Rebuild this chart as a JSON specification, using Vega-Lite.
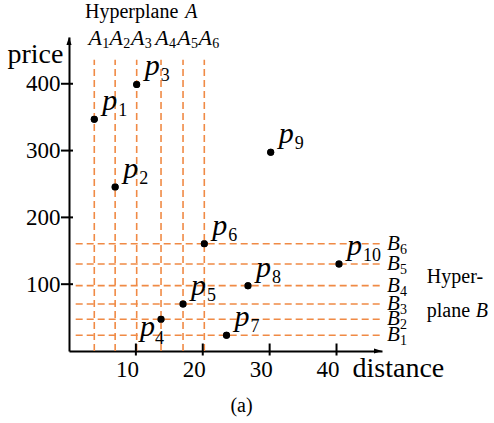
{
  "$schema": "https://vega.github.io/schema/vega-lite/v6.json",
  "width": 313,
  "height": 314,
  "autosize": {"type": "none"},
  "padding": {"left": 69, "top": 37, "right": 112, "bottom": 72},
  "background": "white",
  "config": {"view": {"stroke": null}, "font": "Liberation Serif"},
  "datasets": {
    "points": [
      {"name": "1", "distance": 3.78, "price": 347},
      {"name": "2", "distance": 6.9, "price": 245.5},
      {"name": "3", "distance": 10.12, "price": 399},
      {"name": "4", "distance": 13.76, "price": 47.5},
      {"name": "5", "distance": 17.05, "price": 70.4},
      {"name": "6", "distance": 20.23, "price": 160.6},
      {"name": "7", "distance": 23.55, "price": 23.5},
      {"name": "8", "distance": 26.76, "price": 97.8},
      {"name": "9", "distance": 30.16, "price": 297.5},
      {"name": "10", "distance": 40.37, "price": 130.2}
    ],
    "alines": [
      {"label": "1", "distance": 3.78},
      {"label": "2", "distance": 6.9},
      {"label": "3", "distance": 10.12},
      {"label": "4", "distance": 13.76},
      {"label": "5", "distance": 17.05},
      {"label": "6", "distance": 20.23}
    ],
    "blines": [
      {"label": "1", "price": 23.5},
      {"label": "2", "price": 47.5},
      {"label": "3", "price": 70.4},
      {"label": "4", "price": 97.8},
      {"label": "5", "price": 130.2},
      {"label": "6", "price": 160.6}
    ],
    "xticks": [{"distance": 10}, {"distance": 20}, {"distance": 30}, {"distance": 40}],
    "yticks": [{"price": 100}, {"price": 200}, {"price": 300}, {"price": 400}],
    "notes": [
      {"text": "Hyperplane", "distance": 2.39, "price": 498},
      {"text": "Hyper-", "distance": 53.5, "price": 101.8},
      {"text": "plane", "distance": 53.5, "price": 50.4}
    ],
    "inotes": [
      {"text": "A", "distance": 17.4, "price": 498},
      {"text": "B", "distance": 60.8, "price": 50.4}
    ],
    "caption": [{"text": "(a)", "distance": 25.8, "price": -92}]
  },
  "layer": [
    {
      "data": {"name": "points"},
      "mark": {"type": "circle", "size": 48, "color": "black", "opacity": 1},
      "encoding": {
        "x": {
          "field": "distance", "type": "quantitative",
          "scale": {"domain": [0, 46.8], "nice": false, "zero": false},
          "axis": {
            "title": "distance", "values": [10, 20, 30, 40], "grid": false, "ticks": false,
            "domainColor": "black", "domainWidth": 2,
            "labelFont": "Liberation Serif", "labelFontSize": 23, "labelColor": "black",
            "labelBaseline": "alphabetic", "labelPadding": 25, "labelOffset": -9,
            "titleFont": "Liberation Serif", "titleFontSize": 28, "titleFontWeight": "normal", "titleColor": "black",
            "titleX": 283, "titleY": 25, "titleAlign": "left", "titleBaseline": "alphabetic"
          }
        },
        "y": {
          "field": "price", "type": "quantitative",
          "scale": {"domain": [0, 470], "nice": false, "zero": false},
          "axis": {
            "title": "price", "values": [100, 200, 300, 400], "grid": false, "ticks": false,
            "domainColor": "black", "domainWidth": 2,
            "labelFont": "Liberation Serif", "labelFontSize": 23, "labelColor": "black",
            "labelPadding": 9,
            "titleFont": "Liberation Serif", "titleFontSize": 28, "titleFontWeight": "normal", "titleColor": "black",
            "titleAngle": 0, "titleX": -62, "titleY": 25, "titleAlign": "left", "titleBaseline": "alphabetic"
          }
        }
      }
    },
    {
      "data": {"name": "alines"},
      "mark": {"type": "rule", "color": "#F08A45", "strokeWidth": 1.6, "strokeDash": [7, 4]},
      "encoding": {
        "x": {"field": "distance", "type": "quantitative"},
        "y": {"datum": 0, "type": "quantitative"},
        "y2": {"datum": 436}
      }
    },
    {
      "data": {"name": "blines"},
      "mark": {"type": "rule", "color": "#F08A45", "strokeWidth": 1.6, "strokeDash": [7, 4]},
      "encoding": {
        "y": {"field": "price", "type": "quantitative"},
        "x": {"datum": 1, "type": "quantitative"},
        "x2": {"datum": 46.95}
      }
    },
    {
      "data": {"name": "points"},
      "mark": {"type": "circle", "size": 50, "color": "black", "opacity": 1},
      "encoding": {
        "x": {"field": "distance", "type": "quantitative"},
        "y": {"field": "price", "type": "quantitative"}
      }
    },
    {
      "data": {"name": "xticks"},
      "mark": {"type": "tick", "orient": "vertical", "size": 12, "thickness": 2, "color": "black", "opacity": 1, "yOffset": -1.5},
      "encoding": {
        "x": {"field": "distance", "type": "quantitative"},
        "y": {"datum": 0, "type": "quantitative"}
      }
    },
    {
      "data": {"name": "yticks"},
      "mark": {"type": "tick", "orient": "horizontal", "size": 12, "thickness": 2, "color": "black", "opacity": 1, "xOffset": -2},
      "encoding": {
        "y": {"field": "price", "type": "quantitative"},
        "x": {"datum": 0, "type": "quantitative"}
      }
    },
    {
      "data": {"values": [{"distance": 0, "price": 470}]},
      "mark": {"type": "point", "shape": "M0,0L-0.32,1L0.32,1Z", "size": 256, "filled": true, "color": "black", "opacity": 1},
      "encoding": {
        "x": {"field": "distance", "type": "quantitative"},
        "y": {"field": "price", "type": "quantitative"}
      }
    },
    {
      "data": {"values": [{"distance": 46.8, "price": 0}]},
      "mark": {"type": "point", "shape": "M0,0L-1,-0.32L-1,0.32Z", "size": 256, "filled": true, "color": "black", "opacity": 1},
      "encoding": {
        "x": {"field": "distance", "type": "quantitative"},
        "y": {"field": "price", "type": "quantitative"}
      }
    },
    {
      "data": {"name": "points"},
      "transform": [{"filter": "datum.name !== '4'"}],
      "mark": {"type": "text", "text": "p", "font": "Liberation Serif", "fontStyle": "italic", "fontSize": 30, "align": "left", "baseline": "alphabetic", "dx": 8, "dy": -9, "color": "black"},
      "encoding": {
        "x": {"field": "distance", "type": "quantitative"},
        "y": {"field": "price", "type": "quantitative"}
      }
    },
    {
      "data": {"name": "points"},
      "transform": [{"filter": "datum.name !== '4'"}],
      "mark": {"type": "text", "font": "Liberation Serif", "fontSize": 18, "align": "left", "baseline": "alphabetic", "dx": 24, "dy": -3, "color": "black"},
      "encoding": {
        "x": {"field": "distance", "type": "quantitative"},
        "y": {"field": "price", "type": "quantitative"},
        "text": {"field": "name"}
      }
    },
    {
      "data": {"name": "points"},
      "transform": [{"filter": "datum.name === '4'"}],
      "mark": {"type": "text", "text": "p", "font": "Liberation Serif", "fontStyle": "italic", "fontSize": 30, "align": "left", "baseline": "alphabetic", "dx": -21, "dy": 17, "color": "black"},
      "encoding": {
        "x": {"field": "distance", "type": "quantitative"},
        "y": {"field": "price", "type": "quantitative"}
      }
    },
    {
      "data": {"name": "points"},
      "transform": [{"filter": "datum.name === '4'"}],
      "mark": {"type": "text", "font": "Liberation Serif", "fontSize": 18, "align": "left", "baseline": "alphabetic", "dx": -6, "dy": 25, "color": "black"},
      "encoding": {
        "x": {"field": "distance", "type": "quantitative"},
        "y": {"field": "price", "type": "quantitative"},
        "text": {"field": "name"}
      }
    },
    {
      "data": {"name": "alines"},
      "mark": {"type": "text", "text": "A", "font": "Liberation Serif", "fontStyle": "italic", "fontSize": 22, "align": "center", "baseline": "alphabetic", "dx": 1, "color": "black"},
      "encoding": {
        "x": {"field": "distance", "type": "quantitative"},
        "y": {"datum": 458, "type": "quantitative"}
      }
    },
    {
      "data": {"name": "alines"},
      "mark": {"type": "text", "font": "Liberation Serif", "fontSize": 14, "align": "left", "baseline": "alphabetic", "dx": 8, "dy": 3, "color": "black"},
      "encoding": {
        "x": {"field": "distance", "type": "quantitative"},
        "y": {"datum": 458, "type": "quantitative"},
        "text": {"field": "label"}
      }
    },
    {
      "data": {"name": "blines"},
      "mark": {"type": "text", "text": "B", "font": "Liberation Serif", "fontStyle": "italic", "fontSize": 21, "align": "left", "baseline": "alphabetic", "dx": 5, "dy": 6, "color": "black"},
      "encoding": {
        "y": {"field": "price", "type": "quantitative"},
        "x": {"datum": 46.8, "type": "quantitative"}
      }
    },
    {
      "data": {"name": "blines"},
      "mark": {"type": "text", "font": "Liberation Serif", "fontSize": 14, "align": "left", "baseline": "alphabetic", "dx": 18, "dy": 10, "color": "black"},
      "encoding": {
        "y": {"field": "price", "type": "quantitative"},
        "x": {"datum": 46.8, "type": "quantitative"},
        "text": {"field": "label"}
      }
    },
    {
      "data": {"name": "notes"},
      "mark": {"type": "text", "font": "Liberation Serif", "fontSize": 20, "align": "left", "baseline": "alphabetic", "color": "black"},
      "encoding": {
        "x": {"field": "distance", "type": "quantitative"},
        "y": {"field": "price", "type": "quantitative"},
        "text": {"field": "text"}
      }
    },
    {
      "data": {"name": "inotes"},
      "mark": {"type": "text", "font": "Liberation Serif", "fontStyle": "italic", "fontSize": 20, "align": "left", "baseline": "alphabetic", "color": "black"},
      "encoding": {
        "x": {"field": "distance", "type": "quantitative"},
        "y": {"field": "price", "type": "quantitative"},
        "text": {"field": "text"}
      }
    },
    {
      "data": {"name": "caption"},
      "mark": {"type": "text", "font": "Liberation Serif", "fontSize": 20, "align": "center", "baseline": "alphabetic", "color": "black"},
      "encoding": {
        "x": {"field": "distance", "type": "quantitative"},
        "y": {"field": "price", "type": "quantitative"},
        "text": {"field": "text"}
      }
    }
  ]
}
